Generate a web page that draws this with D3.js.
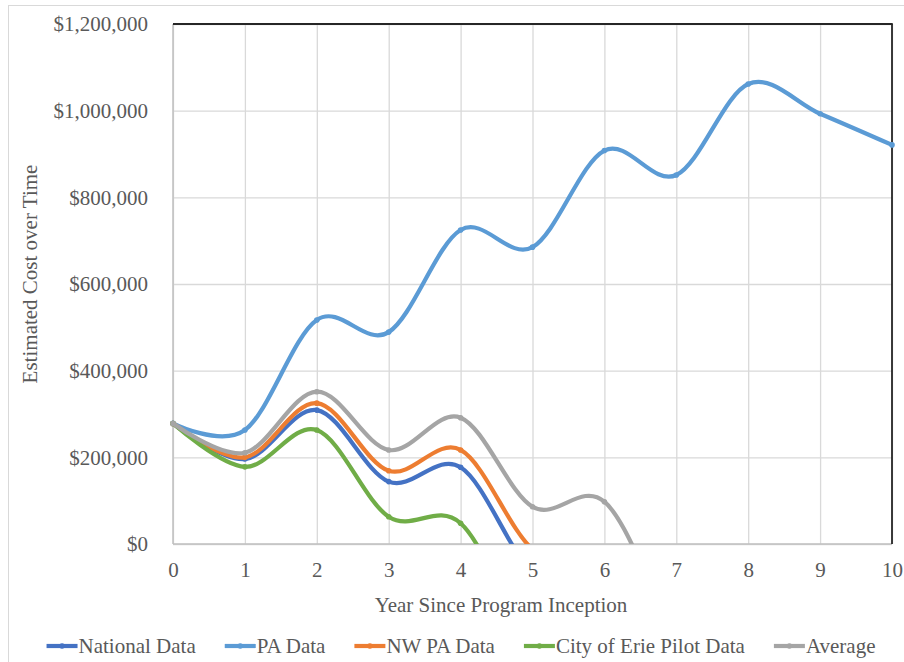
<!DOCTYPE html>
<html>
<head>
<meta charset="utf-8">
<script src="https://cdn.jsdelivr.net/npm/d3@7"></script>
<style>
  html, body { margin: 0; padding: 0; background: #fff; }
  svg { display: block; }
  text { font-family: "Liberation Serif", "Times New Roman", serif; fill: #595959; }
</style>
</head>
<body>
<svg id="chart" width="904" height="662"></svg>
<script>
// Years since program inception
const years = [0, 1, 2, 3, 4, 5, 6, 7, 8, 9, 10];

// Estimated cost per year for each data source (USD)
const nationalData = [278000, 196000, 309000, 144000, 177000, -65000, -125000];
const paData       = [278500, 263000, 517000, 489000, 724600, 685000, 908000, 851500, 1061500, 993000, 921000];
const nwPaData     = [278000, 200000, 325000, 169000, 217000, -12000, -72000];
const erieData     = [278000, 178000, 263000, 63000, 48000, -230000, -290000];
const averageData  = [278000, 210700, 351500, 217000, 291500, 86000, 97600, -195000, -300000];

const seriesNames  = ["National Data", "PA Data", "NW PA Data", "City of Erie Pilot Data", "Average"];
const seriesValues = [nationalData, paData, nwPaData, erieData, averageData];
const seriesColors = ["#4472C4", "#5B9BD5", "#ED7D31", "#70AD47", "#A5A5A5"];

const yTicks = [0, 200000, 400000, 600000, 800000, 1000000, 1200000];
const xTicks = years;

const svg = d3.select("#chart");
const plot = { left: 173, right: 892, top: 24, bottom: 544 };

const x = d3.scaleLinear().domain([0, 10]).range([plot.left, plot.right]);
const y = d3.scaleLinear().domain([0, 1200000]).range([plot.bottom, plot.top]);

// Outer chart frame
svg.append("rect")
  .attr("x", 8.5).attr("y", 5.5)
  .attr("width", 920).attr("height", 680)
  .attr("fill", "none").attr("stroke", "#d9d9d9").attr("stroke-width", 1);

// Horizontal gridlines + y labels
const yAxis = svg.append("g")
  .attr("transform", `translate(${plot.left},0)`)
  .call(d3.axisLeft(y).tickValues(yTicks).tickFormat(d3.format("$,"))
    .tickSize(-(plot.right - plot.left)).tickPadding(25));
yAxis.select(".domain").remove();
yAxis.selectAll(".tick line").attr("stroke", "#d9d9d9").attr("stroke-width", 1.3);
yAxis.selectAll(".tick text").style("font-size", "21px").attr("fill", "#595959");

// Vertical gridlines + x labels
const xAxis = svg.append("g")
  .attr("transform", `translate(0,${plot.bottom})`)
  .call(d3.axisBottom(x).tickValues(xTicks).tickFormat(d3.format("d"))
    .tickSize(-(plot.bottom - plot.top)).tickPadding(18));
xAxis.select(".domain").remove();
xAxis.selectAll(".tick line").attr("stroke", "#d9d9d9").attr("stroke-width", 1.3);
xAxis.selectAll(".tick text").style("font-size", "21px").attr("fill", "#595959");

// Axis lines (left/bottom) and plot border (top/right)
svg.append("line").attr("x1", plot.left).attr("x2", plot.left)
  .attr("y1", plot.top).attr("y2", plot.bottom)
  .attr("stroke", "#bfbfbf").attr("stroke-width", 1.5);
svg.append("line").attr("x1", plot.left).attr("x2", plot.right)
  .attr("y1", plot.bottom).attr("y2", plot.bottom)
  .attr("stroke", "#bfbfbf").attr("stroke-width", 1.5);
svg.append("line").attr("x1", plot.left).attr("x2", plot.right + 0.75)
  .attr("y1", plot.top).attr("y2", plot.top)
  .attr("stroke", "#262626").attr("stroke-width", 1.8);
svg.append("line").attr("x1", plot.right).attr("x2", plot.right)
  .attr("y1", plot.top).attr("y2", plot.bottom)
  .attr("stroke", "#262626").attr("stroke-width", 1.8);

// Clip everything below the $0 baseline
svg.append("clipPath").attr("id", "clip")
  .append("rect").attr("x", 0).attr("y", 0)
  .attr("width", 904).attr("height", plot.bottom);

const line = d3.line()
  .x((d, i) => x(years[i]))
  .y(d => y(d))
  .curve(d3.curveCardinal.tension(0));

const seriesG = svg.append("g").attr("clip-path", "url(#clip)");
seriesValues.forEach((vals, k) => {
  const g = seriesG.append("g");
  g.append("path")
    .datum(vals)
    .attr("d", line)
    .attr("fill", "none")
    .attr("stroke", seriesColors[k])
    .attr("stroke-width", 4.2)
    .attr("stroke-linejoin", "round")
    .attr("stroke-linecap", "round");
  g.selectAll("circle")
    .data(vals.map((v, i) => ({ v, i })).filter(d => d.v >= 0))
    .join("circle")
    .attr("cx", d => x(years[d.i]))
    .attr("cy", d => y(d.v))
    .attr("r", 2.8)
    .attr("fill", seriesColors[k]);
});

// Axis titles
svg.append("text")
  .attr("x", 501)
  .attr("y", 612)
  .attr("text-anchor", "middle")
  .style("font-size", "21px")
  .text("Year Since Program Inception");

svg.append("text")
  .attr("transform", "translate(37,274) rotate(-90)")
  .attr("text-anchor", "middle")
  .style("font-size", "21px")
  .text("Estimated Cost over Time");

// Legend
const legend = svg.append("g");
const items = legend.selectAll("g.item").data(seriesNames).join("g").attr("class", "item");
items.append("line")
  .attr("x1", 0).attr("x2", 31).attr("y1", 0).attr("y2", 0)
  .attr("stroke", (d, i) => seriesColors[i]).attr("stroke-width", 4.2);
items.append("circle")
  .attr("cx", 15.5).attr("cy", 0).attr("r", 2.8)
  .attr("fill", (d, i) => seriesColors[i]);
items.append("text")
  .attr("x", 32).attr("y", 7)
  .style("font-size", "21px")
  .text(d => d);

let cursor = 0;
const widths = [];
items.each(function () {
  widths.push(32 + this.querySelector("text").getComputedTextLength());
});
const gap = 29;
const total = d3.sum(widths) + gap * (widths.length - 1);
cursor = 461 - total / 2;
items.attr("transform", (d, i) => {
  const tx = cursor;
  cursor += widths[i] + gap;
  return `translate(${tx},646)`;
});
</script>
</body>
</html>
